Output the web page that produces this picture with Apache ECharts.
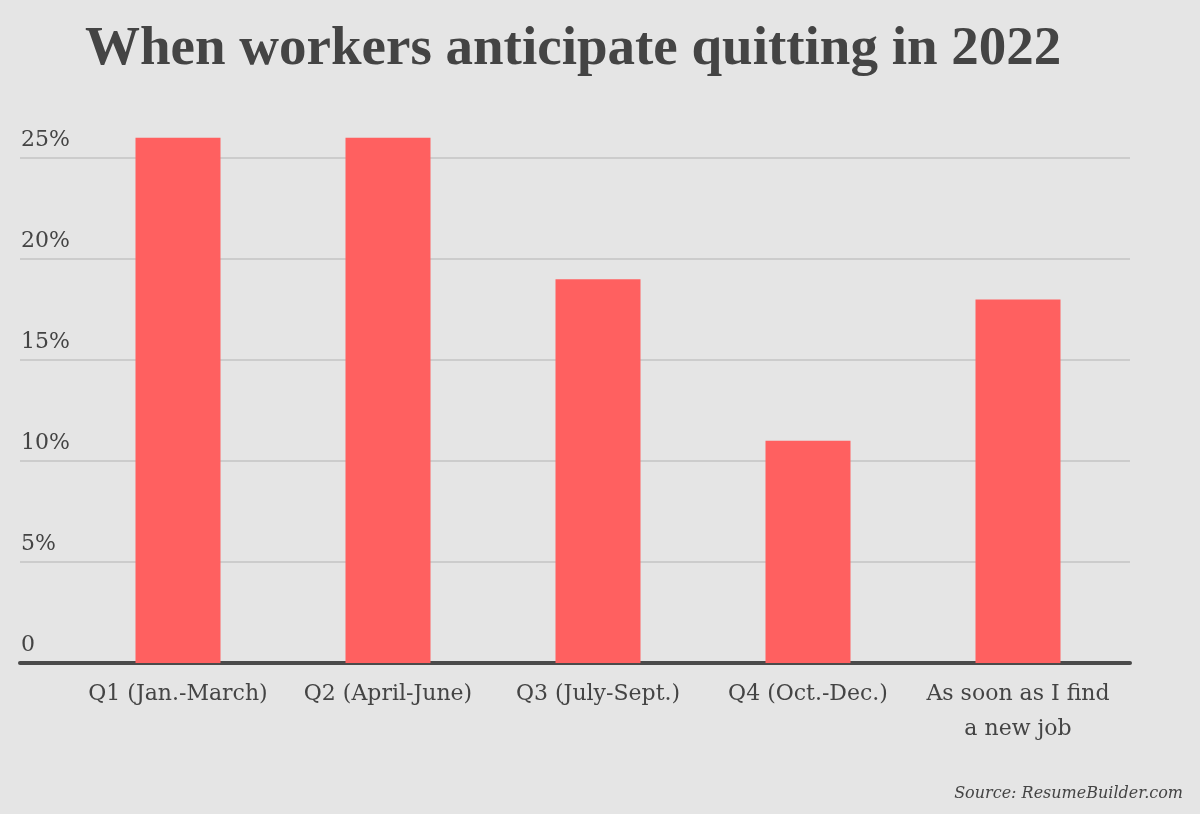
<!DOCTYPE html>
<html>
<head>
<meta charset="utf-8">
<script src="https://cdn.jsdelivr.net/npm/echarts@6/dist/echarts.min.js"></script>
<style>
html,body{margin:0;padding:0;background:#e5e5e5;}
#c{width:1200px;height:814px;}
</style>
</head>
<body>
<div id="c"></div>
<script>
const categories = ['Q1 (Jan.-March)', 'Q2 (April-June)', 'Q3 (July-Sept.)', 'Q4 (Oct.-Dec.)', 'As soon as I find\na new job'];
const values = [26, 26, 19, 11, 18];
const yTicks = [0, 5, 10, 15, 20, 25];
const titleText = 'When workers anticipate quitting in 2022';
const sourceText = 'Source: ResumeBuilder.com';

const chart = echarts.init(document.getElementById('c'));
const textColor = '#444444';
chart.setOption({
  backgroundColor: '#e5e5e5',
  animation: false,
  title: [{
    text: titleText,
    left: 80, top: 17,
    textStyle: {fontFamily: 'Liberation Serif', fontWeight: 'bold', fontSize: 55, color: '#444444'}
  }, {
    text: sourceText,
    right: 12, top: 781,
    textStyle: {fontFamily: 'DejaVu Serif', fontStyle: 'italic', fontWeight: 'normal', fontSize: 16, color: textColor}
  }],
  grid: [
    {left: 20, right: 70, top: 158, bottom: 151},
    {left: 73, right: 77, top: 158, bottom: 151}
  ],
  xAxis: [
    {gridIndex: 0, type: 'value', min: 0, max: 1, show: true,
     axisLine: {show: true, onZero: false, lineStyle: {color: '#4a4a4a', width: 4}},
     axisTick: {show: false}, axisLabel: {show: false}, splitLine: {show: false}},
    {gridIndex: 1, type: 'category', data: categories,
     axisLine: {show: false}, axisTick: {show: false}, splitLine: {show: false},
     axisLabel: {margin: 14, fontFamily: 'DejaVu Serif', fontSize: 22, color: textColor, lineHeight: 35, interval: 0}}
  ],
  yAxis: [
    {gridIndex: 0, type: 'value', min: yTicks[0], max: yTicks[yTicks.length-1], interval: 5,
     axisLine: {show: false}, axisTick: {show: false},
     splitLine: {show: true, lineStyle: {color: '#cccccc', width: 2}},
     axisLabel: {inside: true, margin: 1, verticalAlign: 'bottom', padding: [0,0,7,0],
       fontFamily: 'DejaVu Serif', fontSize: 22, color: textColor,
       formatter: v => v === 0 ? '0' : v + '%'}},
    {gridIndex: 1, type: 'value', min: yTicks[0], max: yTicks[yTicks.length-1], interval: 5, show: false,
     splitLine: {show: false}}
  ],
  series: [{
    type: 'bar', xAxisIndex: 1, yAxisIndex: 1, data: values, barWidth: 85, clip: false,
    itemStyle: {color: '#ff6060'}, z: 1
  }]
});
</script>
</body>
</html>
